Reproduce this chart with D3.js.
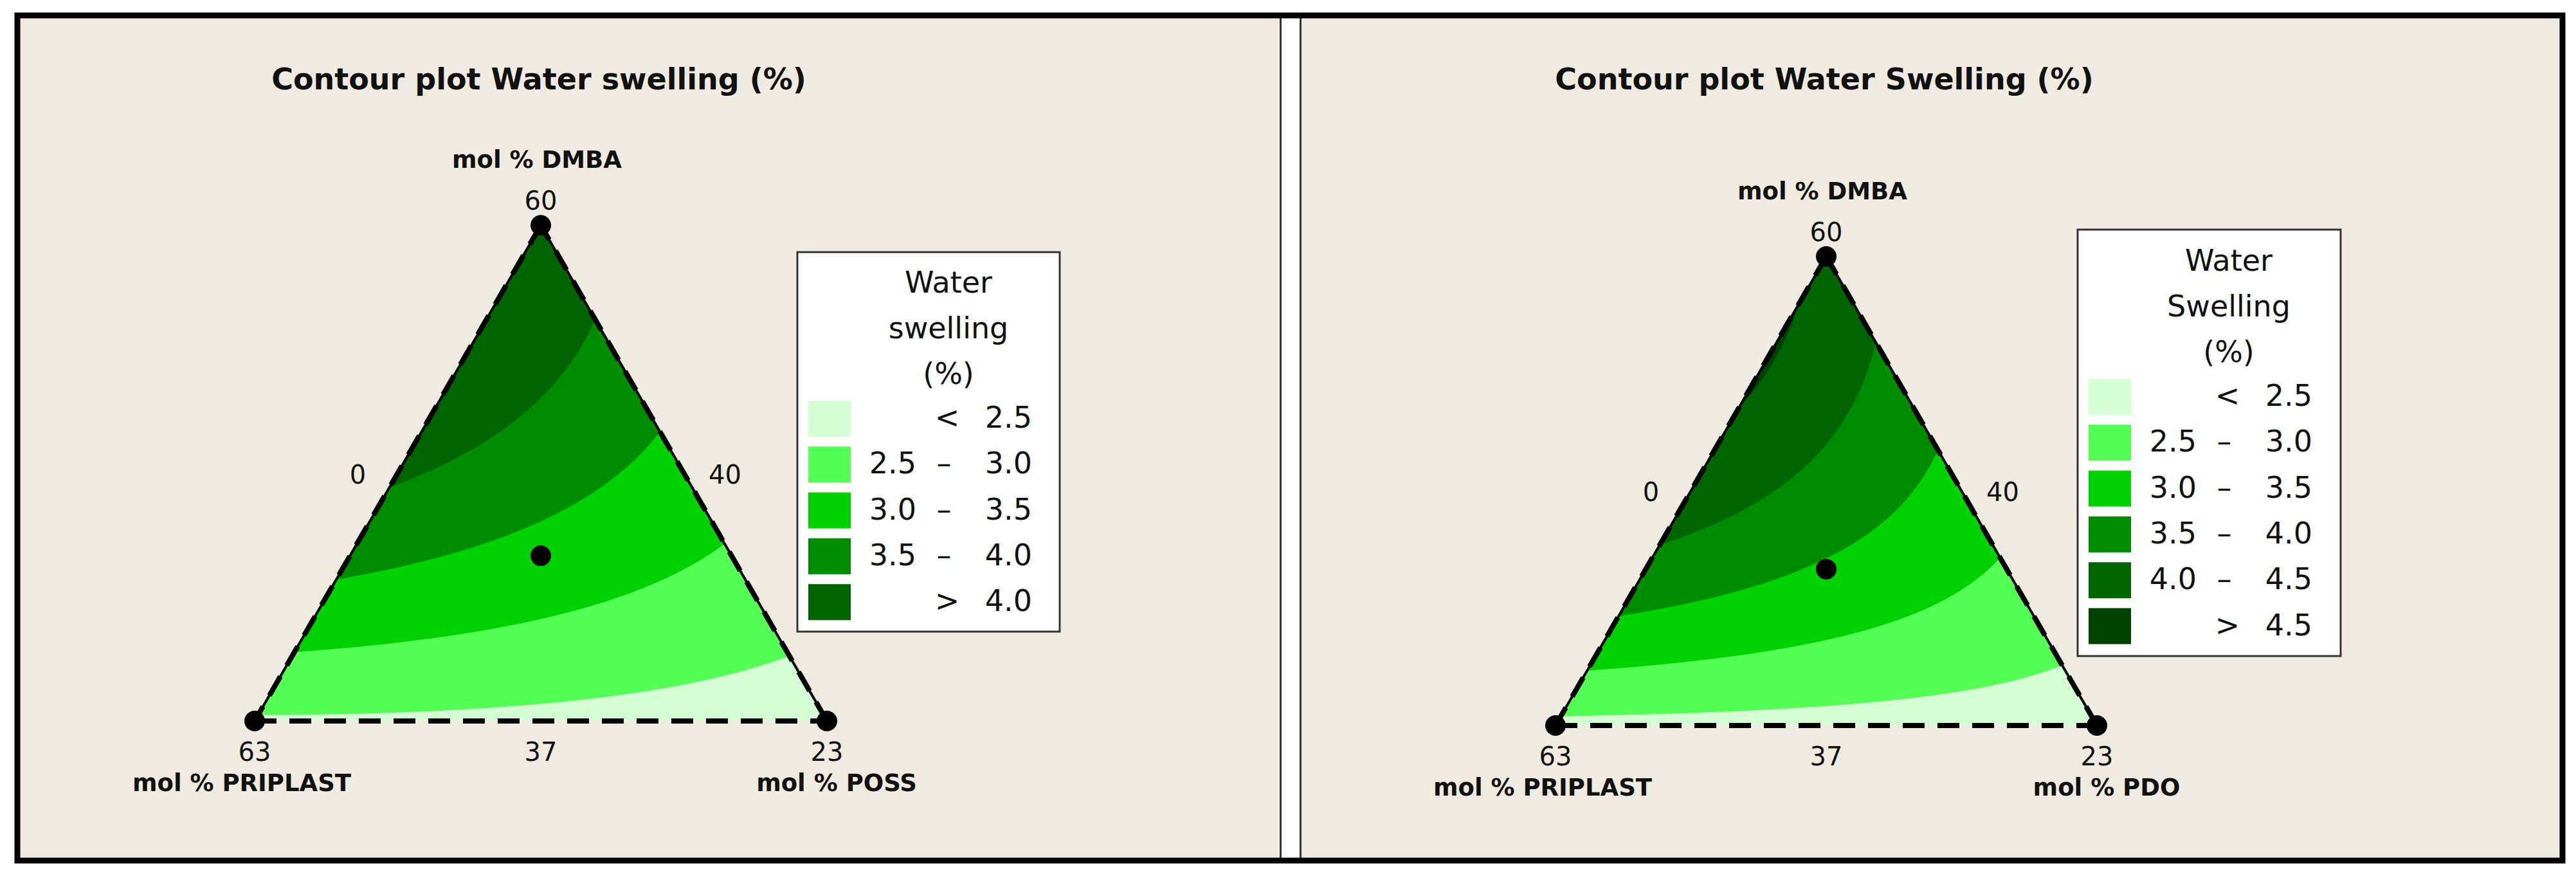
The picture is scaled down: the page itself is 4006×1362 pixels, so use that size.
<!DOCTYPE html>
<html><head><meta charset="utf-8">
<script src="https://cdnjs.cloudflare.com/ajax/libs/d3/7.8.5/d3.min.js"></script>
<style>html,body{margin:0;padding:0;background:#fff;} svg{display:block;}</style>
</head><body>
<script>
// ---------------- DATA ----------------
const panelTitles = ["Contour plot Water swelling (%)", "Contour plot Water Swelling (%)"];
const topComponent = "mol % DMBA";
const leftComponent = "mol % PRIPLAST";
const rightComponents = ["mol % POSS", "mol % PDO"];
const vertexTicks = ["60", "63", "23"];          // DMBA (top), PRIPLAST (bottom-left), third component (bottom-right)
const edgeTicks = ["0", "37", "40"];             // left edge, bottom edge, right edge
const legendTitlesPOSS = ["Water", "swelling", "(%)"];
const legendTitlesPDO = ["Water", "Swelling", "(%)"];
const levelsPOSS = [2.5, 3.0, 3.5, 4.0];
const levelsPDO = [2.5, 3.0, 3.5, 4.0, 4.5];
const bandColors = ["#D4FFD4", "#55FF55", "#00D200", "#008C00", "#006400", "#004000"];
// Scheffe mixture-model coefficients
// terms: A, B, C, AB, AC, BC, AB(A-B), AC(A-C), BC(B-C), ABC   (A=DMBA, B=PRIPLAST, C=POSS/PDO)
const coefPOSS = [4.42, 2.45, 2.21, 2.513, 0, 0.25, 0.285, 0, 0, 0];
const coefPDO  = [4.40, 2.39, 2.22, 3.489, 0, 0.12, -0.181, 0, 0, 1.0];
// design points (DMBA, PRIPLAST, third) : vertices and centroid
const designPoints = [[1, 0, 0], [0, 1, 0], [0, 0, 1], [1/3, 1/3, 1/3]];

// ---------------- LAYOUT ----------------
const W = 4006, H = 1362;
const FONT = "DejaVu Sans, Verdana, sans-serif";
const BG = "#EFEBE0";

const panels = [
  {title: panelTitles[0], right: rightComponents[0], coef: coefPOSS, levels: levelsPOSS, legendTitle: legendTitlesPOSS,
   bl: [396, 1121], br: [1286, 1121], legend: {x: 1240, y: 392, w: 408, h: 590, rowTop: 623}},
  {title: panelTitles[1], right: rightComponents[1], coef: coefPDO, levels: levelsPDO, legendTitle: legendTitlesPDO,
   bl: [2419, 1128], br: [3261, 1128], legend: {x: 3231, y: 357, w: 409, h: 663, rowTop: 589}}
];

const svg = d3.select("body").append("svg").attr("width", W).attr("height", H);
svg.append("rect").attr("width", W).attr("height", H).attr("fill", "#fff");

// panel backgrounds
svg.append("rect").attr("x", 31).attr("y", 28).attr("width", 1961).attr("height", 1306).attr("fill", BG);
svg.append("rect").attr("x", 2022).attr("y", 28).attr("width", 1959).attr("height", 1306).attr("fill", BG);
svg.append("line").attr("x1", 1991.5).attr("x2", 1991.5).attr("y1", 28).attr("y2", 1334).attr("stroke", "#333").attr("stroke-width", 3);
svg.append("line").attr("x1", 2022.5).attr("x2", 2022.5).attr("y1", 28).attr("y2", 1334).attr("stroke", "#333").attr("stroke-width", 3);
// outer frame
svg.append("rect").attr("x", 27).attr("y", 24).attr("width", 3958).attr("height", 1314)
  .attr("fill", "none").attr("stroke", "#000").attr("stroke-width", 9);

function model(c, A, B, C) {
  return c[0]*A + c[1]*B + c[2]*C + c[3]*A*B + c[4]*A*C + c[5]*B*C
       + c[6]*A*B*(A-B) + c[7]*A*C*(A-C) + c[8]*B*C*(B-C) + c[9]*A*B*C;
}

const fmt = d3.format(".1f");

panels.forEach((p, pi) => {
  const g = svg.append("g");
  const width = p.br[0] - p.bl[0];
  const height = width * Math.sqrt(3) / 2;
  const xScale = d3.scaleLinear().domain([0, 1]).range([p.bl[0], p.br[0]]);
  const yScale = d3.scaleLinear().domain([0, 1]).range([p.bl[1], p.bl[1] - height]);
  const pt = (A, B, C) => [xScale(C + A / 2), yScale(A)];
  const T = pt(1, 0, 0), L = pt(0, 1, 0), R = pt(0, 0, 1);

  // clip
  const clipId = "tri" + pi;
  g.append("clipPath").attr("id", clipId).append("path")
    .attr("d", d3.line()([T, L, R]) + "Z");

  // contour grid
  const s = 2, pad = 4;
  const x0 = L[0] - pad * s, y0 = T[1] - pad * s;
  const nx = Math.ceil(width / s) + 2 * pad + 1, ny = Math.ceil(height / s) + 2 * pad + 1;
  const values = new Float64Array(nx * ny);
  for (let j = 0; j < ny; j++) {
    for (let i = 0; i < nx; i++) {
      const px = x0 + i * s, py = y0 + j * s;
      const A = yScale.invert(py);
      const C = xScale.invert(px) - A / 2;
      const B = 1 - A - C;
      values[j * nx + i] = model(p.coef, A, B, C);
    }
  }
  const contours = d3.contours().size([nx, ny]).thresholds(p.levels)(values);
  const path = d3.geoPath(d3.geoIdentity().scale(s).translate([x0 - s / 2, y0 - s / 2]));
  const cg = g.append("g").attr("clip-path", `url(#${clipId})`);
  cg.append("path").attr("d", d3.line()([T, L, R]) + "Z").attr("fill", bandColors[0]);
  cg.selectAll("path.band").data(contours).join("path").attr("class", "band")
    .attr("d", path).attr("fill", (d, k) => bandColors[k + 1]);

  // edges
  [[T, L], [R, T]].forEach(e => g.append("path").attr("d", d3.line()(e))
    .attr("stroke", "#000").attr("stroke-width", 4).attr("fill", "none"));
  [[T, L], [L, R], [R, T]].forEach(e => g.append("path").attr("d", d3.line()(e))
    .attr("stroke", "#000").attr("stroke-width", 8).attr("stroke-dasharray", "34 20").attr("fill", "none"));

  // design points
  g.selectAll("circle.dp").data(designPoints).join("circle").attr("class", "dp")
    .attr("cx", d => pt(d[0], d[1], d[2])[0]).attr("cy", d => pt(d[0], d[1], d[2])[1])
    .attr("r", 16).attr("fill", "#000");

  // tick labels
  const tick = (txt, x, y) => g.append("text").attr("x", x).attr("y", y).attr("text-anchor", "middle")
    .attr("font-family", FONT).attr("font-size", 40).attr("fill", "#111").text(txt);
  tick(vertexTicks[0], T[0], T[1] - 24);
  tick(vertexTicks[1], L[0], L[1] + 62);
  tick(vertexTicks[2], R[0], R[1] + 62);
  const ML = pt(0.5, 0.5, 0), MB = pt(0, 0.5, 0.5), MR = pt(0.5, 0, 0.5);
  tick(edgeTicks[0], ML[0] - 62, ML[1] + 16);
  tick(edgeTicks[1], MB[0], MB[1] + 62);
  tick(edgeTicks[2], MR[0] + 64, MR[1] + 16);

  // axis labels
  const lab = (txt, x, y) => g.append("text").attr("x", x).attr("y", y).attr("text-anchor", "middle")
    .attr("font-family", FONT).attr("font-weight", "bold").attr("font-size", 37).attr("fill", "#111").text(txt);
  lab(topComponent, T[0] - 6, T[1] - 89);
  lab(leftComponent, L[0] - 20, L[1] + 109);
  lab(p.right, R[0] + 15, R[1] + 109);

  // title
  g.append("text").attr("x", T[0] - 3).attr("y", 139).attr("text-anchor", "middle")
    .attr("font-family", FONT).attr("font-weight", "bold").attr("font-size", 46).attr("fill", "#111").text(p.title);

  // legend
  const lg = p.legend;
  g.append("rect").attr("x", lg.x).attr("y", lg.y).attr("width", lg.w).attr("height", lg.h)
    .attr("fill", "#fff").attr("stroke", "#333").attr("stroke-width", 3);
  const cx = lg.x + 235;
  p.legendTitle.forEach((t, k) => g.append("text").attr("x", cx).attr("y", lg.rowTop - 168 + k * 71)
    .attr("text-anchor", "middle").attr("font-family", FONT).attr("font-size", 46).attr("fill", "#111").text(t));
  const nb = p.levels.length + 1;
  for (let k = 0; k < nb; k++) {
    const y = lg.rowTop + k * 71.3;
    g.append("rect").attr("x", lg.x + 17).attr("y", y).attr("width", 66).attr("height", 56).attr("fill", bandColors[k]);
    const base = y + 42;
    const t = (txt, x, anchor) => g.append("text").attr("x", x).attr("y", base).attr("text-anchor", anchor)
      .attr("font-family", FONT).attr("font-size", 46).attr("fill", "#111").text(txt);
    if (k === 0) {
      t("<", lg.x + 233, "middle");
      t(fmt(p.levels[0]), lg.x + 365, "end");
    } else if (k === nb - 1) {
      t(">", lg.x + 233, "middle");
      t(fmt(p.levels[nb - 2]), lg.x + 365, "end");
    } else {
      t(fmt(p.levels[k - 1]), lg.x + 185, "end");
      t("\u2013", lg.x + 228, "middle");
      t(fmt(p.levels[k]), lg.x + 365, "end");
    }
  }
});
</script>
</body></html>
